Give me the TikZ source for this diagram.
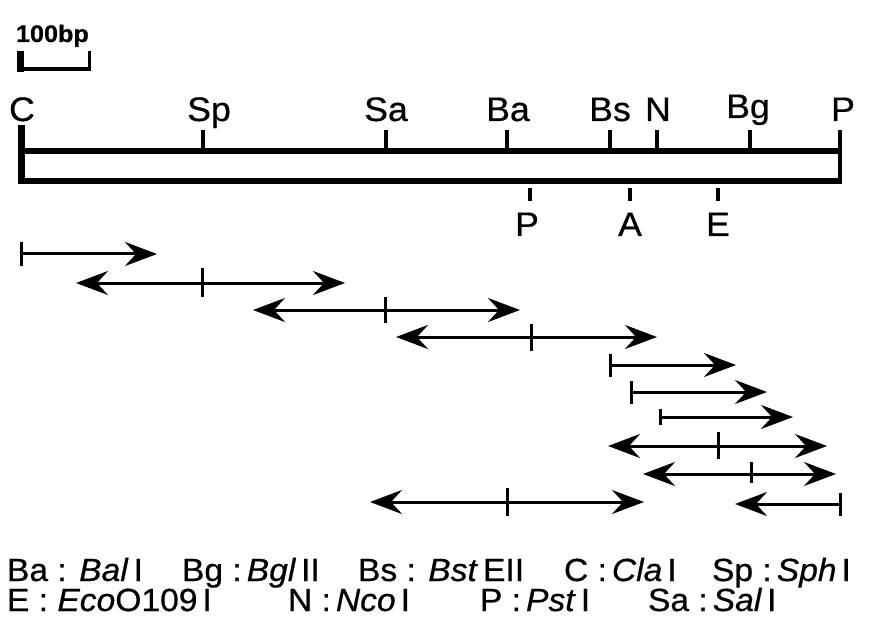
\documentclass[tikz,border=0pt]{standalone}
\usepackage{fontspec}
\setmainfont{Liberation Sans}[FakeStretch=1.05,FakeBold=0.6]
\usetikzlibrary{arrows.meta}
\tikzset{
  every node/.style={inner sep=0pt,outer sep=0pt},
  site/.style={font=\fontsize{34}{34}\selectfont,anchor=base},
  legend/.style={font=\fontsize{32}{32}\selectfont,anchor=base west},
  legendtop/.style={legend,text depth=0pt},
  legendlow/.style={legend,text height=23pt},
  frame/.style={line width=5.5pt,line cap=butt},
  sitetick/.style={line width=4pt},
  frag/.style={line width=3pt},
  fragtick/.style={line width=3pt},
  tip/.tip={Stealth[length=32pt,width=24pt,inset=11pt]},
  bar/.tip={Bar[width=23pt,line width=3pt]},
  sbar/.tip={Bar[width=16pt,line width=3pt]}
}
\newcommand{\tsp}{\hspace{5pt}}
\begin{document}
\begin{tikzpicture}[x=1pt,y=-1pt]
\useasboundingbox (0,0) rectangle (872,620);
% scale bar
\node[font=\bfseries\fontsize{24}{24}\selectfont,anchor=base west] (sc) at (16,42) {100bp};
\coordinate (s1) at (20,51);
\coordinate (s2) at (20,69);
\coordinate (s3) at (89,69);
\coordinate (s4) at (89,51);
\draw[line width=7pt] (s1) -- (20,72);
\draw[line width=4pt] (s2) -- (s3);
\draw[line width=3pt] (s4) -- (89,71);
% main map frame
\coordinate (tl) at (21,151);
\coordinate (tr) at (840,151);
\coordinate (bl) at (21,181);
\coordinate (br) at (840,181);
\draw[frame] (tl) -- (tr);
\draw[frame] (bl) -- (br);
\draw[line width=7pt] (21,125) -- (21,184);
\draw[line width=4.5pt] (840,130) -- (840,184);
% top site ticks
\foreach \x in {203,386,507,610,657,750}{\draw[sitetick] (\x,130) -- (\x,151);}
% bottom ticks
\foreach \x in {530,630,718}{\draw[sitetick] (\x,188) -- (\x,201);}
% top labels
\node[site] (lC) at (22,121) {C};
\node[site] (lSp) at (209,121) {Sp};
\node[site] (lSa) at (386,121) {Sa};
\node[site] (lBa) at (508,121) {Ba};
\node[site] (lBs) at (610,121) {Bs};
\node[site] (lN) at (658,121) {N};
\node[site] (lBg) at (748,118) {Bg};
\node[site] (lP) at (843,121) {P};
% bottom labels
\node[site] (bP) at (527,236) {P};
\node[site] (bA) at (630,236) {A};
\node[site] (bE) at (718,236) {E};
% fragments
\coordinate (a1) at (20,254); \coordinate (b1) at (157,254);
\draw[frag,bar-tip] (a1) -- (b1);
\coordinate (a2) at (76,283); \coordinate (b2) at (345,283);
\draw[frag,tip-tip] (a2) -- (b2); \draw[fragtick] (202,268) -- (202,297);
\coordinate (a3) at (253,310); \coordinate (b3) at (520,310);
\draw[frag,tip-tip] (a3) -- (b3); \draw[fragtick] (385,297) -- (385,323);
\coordinate (a4) at (396,337); \coordinate (b4) at (657,337);
\draw[frag,tip-tip] (a4) -- (b4); \draw[fragtick] (531,324) -- (531,351);
\coordinate (a5) at (609,365); \coordinate (b5) at (736,365);
\draw[frag,bar-tip] (a5) -- (b5);
\coordinate (a6) at (630,392); \coordinate (b6) at (767,392);
\draw[frag,bar-tip] (a6) -- (b6);
\coordinate (a7) at (659,417); \coordinate (b7) at (793,417);
\draw[frag,sbar-tip] (a7) -- (b7);
\coordinate (a8) at (608,446); \coordinate (b8) at (827,446);
\draw[frag,tip-tip] (a8) -- (b8); \draw[fragtick] (718,432) -- (718,459);
\coordinate (a9) at (643,474); \coordinate (b9) at (836,474);
\draw[frag,tip-tip] (a9) -- (b9); \draw[fragtick] (751,462) -- (751,483);
\coordinate (a10) at (370,502); \coordinate (b10) at (644,502);
\draw[frag,tip-tip] (a10) -- (b10); \draw[fragtick] (507,488) -- (507,516);
\coordinate (a11) at (735,504); \coordinate (b11) at (842,504);
\draw[frag,tip-bar] (a11) -- (b11);
% legend
\node[legendtop] (g1) at (7,581) {Ba : \textit{Bal}\tsp I};
\node[legendtop] (g2) at (182,581) {Bg :\tsp\textit{Bgl}\tsp II};
\node[legendtop] (g3) at (358,581) {Bs : \textit{Bst}\tsp EII};
\node[legendtop] (g4) at (564,581) {C :\tsp\textit{Cla}\tsp I};
\node[legendtop] (g5) at (712,581) {Sp :\tsp\textit{Sph}\tsp I};
\node[legendlow] (h1) at (7,611) {E : \textit{Eco}O109\tsp I};
\node[legendlow] (h2) at (288,611) {N :\tsp\textit{Nco}\tsp I};
\node[legendlow] (h3) at (480,611) {P :\tsp\textit{Pst}\tsp I};
\node[legendlow] (h4) at (648,611) {Sa :\tsp\textit{Sal}\tsp I};
\end{tikzpicture}
\end{document}
